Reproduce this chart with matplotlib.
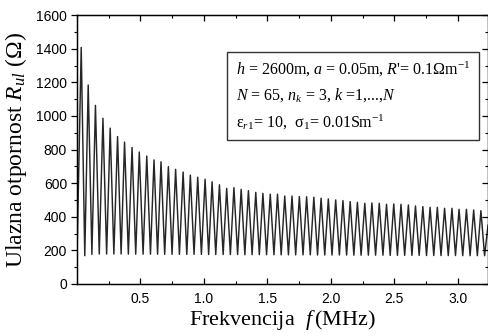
import numpy as np
import matplotlib.pyplot as plt
from matplotlib.ticker import MultipleLocator, FixedLocator

plt.rcParams['mathtext.fontset'] = 'custom'
plt.rcParams['mathtext.rm'] = 'Liberation Serif'
plt.rcParams['mathtext.it'] = 'Liberation Serif:italic'
plt.rcParams['mathtext.bf'] = 'Liberation Serif:bold'

# resonance peaks (MHz, Ohm)
peak_f = [0.035, 0.090, 0.147, 0.206, 0.263, 0.321, 0.376, 0.435, 0.492, 0.551,
          0.608, 0.663, 0.721, 0.778, 0.837, 0.894, 0.952, 1.010, 1.065, 1.123,
          1.180, 1.237, 1.294, 1.351, 1.409, 1.465, 1.523, 1.580, 1.637, 1.694,
          1.752, 1.809, 1.866, 1.923, 1.980, 2.038, 2.095, 2.152, 2.209, 2.267,
          2.323, 2.381, 2.438, 2.495, 2.552, 2.610, 2.666, 2.724, 2.781, 2.838,
          2.895, 2.953, 3.009, 3.067, 3.124, 3.181]
peak_r = [1408, 1184, 1063, 986, 927, 877, 844, 812, 785, 761,
          738, 727, 698, 682, 666, 648, 635, 623, 608, 590,
          569, 573, 563, 555, 545, 539, 534, 534, 523, 523,
          520, 519, 516, 510, 506, 500, 496, 490, 486, 480,
          482, 480, 474, 476, 474, 470, 464, 460, 456, 456,
          450, 450, 444, 444, 440, 436]

# minima between the peaks
trough_f = [0.063, 0.119, 0.177, 0.235, 0.292, 0.349, 0.406, 0.464, 0.522, 0.580,
            0.636, 0.692, 0.750, 0.808, 0.866, 0.923, 0.981, 1.038, 1.094, 1.152,
            1.209, 1.266, 1.323, 1.380, 1.437, 1.494, 1.552, 1.609, 1.666, 1.723,
            1.781, 1.838, 1.895, 1.952, 2.009, 2.067, 2.124, 2.181, 2.238, 2.295,
            2.352, 2.410, 2.467, 2.524, 2.581, 2.638, 2.695, 2.753, 2.810, 2.867,
            2.924, 2.981, 3.038, 3.096, 3.153, 3.210]
trough_r = [168, 176, 178, 178, 178, 178, 177, 177, 177, 177,
            177, 176, 176, 176, 176, 176, 176, 175, 175, 175,
            175, 175, 174, 174, 174, 174, 174, 173, 173, 173,
            173, 173, 172, 172, 172, 172, 172, 171, 171, 171,
            171, 171, 170, 170, 170, 170, 170, 169, 169, 169,
            169, 169, 168, 168, 168, 168]

start_f, start_r = 0.0, 95
end_f, end_r = 3.237, 350

f = [start_f]
r = [start_r]
for pf, pr, tf, tr in zip(peak_f, peak_r, trough_f, trough_r):
    f += [pf, tf]
    r += [pr, tr]
f.append(end_f)
r.append(end_r)

fig = plt.figure(figsize=(4.89, 3.36), dpi=100)
ax = fig.add_axes([0.157, 0.155, 0.841, 0.800])

ax.plot(f, r, color='#262626', lw=1.05, solid_joinstyle='round')

ax.set_xlim(0, 3.237)
ax.set_ylim(0, 1600)
ax.xaxis.set_major_locator(FixedLocator([0.5, 1.0, 1.5, 2.0, 2.5, 3.0]))
ax.xaxis.set_minor_locator(MultipleLocator(0.25))
ax.yaxis.set_major_locator(MultipleLocator(200))
ax.yaxis.set_minor_locator(MultipleLocator(100))

ax.tick_params(axis='x', which='both', direction='in', top=True, labelsize=10, pad=6)
ax.tick_params(axis='y', which='both', direction='out', labelsize=10, pad=2.5)
ax.tick_params(which='major', length=4.5, width=0.9)
ax.tick_params(which='minor', length=2.5, width=0.8)
for lab in ax.get_xticklabels() + ax.get_yticklabels():
    lab.set_family('Liberation Sans')

# right side ticks pointing inward
ax2 = ax.twinx()
ax2.set_ylim(0, 1600)
ax2.yaxis.set_major_locator(MultipleLocator(200))
ax2.yaxis.set_minor_locator(MultipleLocator(100))
ax2.tick_params(axis='y', which='both', direction='in', labelright=False)
ax2.tick_params(which='major', length=4.5, width=0.9)
ax2.tick_params(which='minor', length=2.5, width=0.8)

for sp in ax.spines.values():
    sp.set_linewidth(1.0)

ax.set_xlabel(r'Frekvencija  $f\,$(MHz)', family='Liberation Serif', fontsize=16, labelpad=1)
ax.set_ylabel(r'Ulazna otpornost $R_{ul}$ (Ω)', family='Liberation Serif', fontsize=17, labelpad=5)

txt = (r"$h$ = 2600m, $a$ = 0.05m, $R$'= 0.1Ωm$^{-1}$" + "\n"
       r"$N$ = 65, $n_k$ = 3, $k$ =1,...,$N$" + "\n"
       r"ε$_{r1}$= 10,  σ$_1$= 0.01Sm$^{-1}$")
ax.text(0.386, 0.832, txt, transform=ax.transAxes, family='Liberation Serif',
        fontsize=11.5, va='top', ha='left', linespacing=1.55,
        bbox=dict(boxstyle='square,pad=0.55', fc='white', ec='#333333', lw=1.0))

fig.savefig('out.png', dpi=100)
